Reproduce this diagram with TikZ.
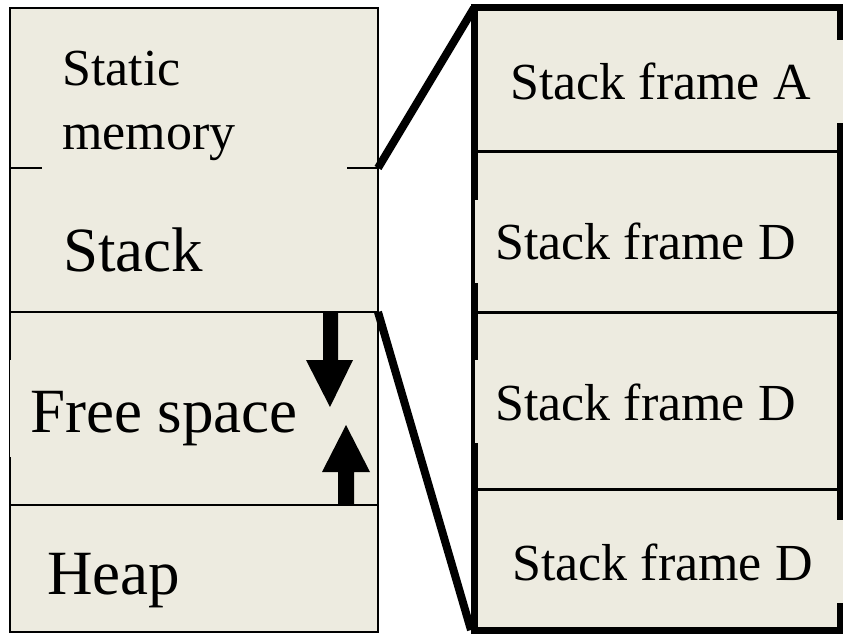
\documentclass[tikz,border=0pt]{standalone}
\usepackage{fontspec}
\setmainfont{Liberation Serif}
\definecolor{mem}{RGB}{237,235,224}
\begin{document}
\begin{tikzpicture}[x=1pt,y=-1pt,
  thinline/.style={line width=1.5pt},
  frameline/.style={line width=7pt},
  sepline/.style={line width=3pt},
  zoomline/.style={line width=8pt},
  lbl/.style={anchor=base west, inner sep=0pt, font=\fontsize{52}{64}\selectfont},
  biglbl/.style={anchor=base west, inner sep=0pt, font=\fontsize{63}{72}\selectfont},
  cover/.style={fill=mem, draw=none},
  arrowshape/.style={fill=black, draw=none}]
\useasboundingbox (0,0) rectangle (843,636);
% ---------- left column ----------
\fill[mem] (10,8) rectangle (378,632);
\draw[thinline] (10,8) rectangle (378,632);
\draw[thinline] (10,168) -- (378,168);
\draw[thinline] (10,312) -- (378,312);
\draw[thinline] (10,505) -- (378,505);
\fill[cover] (42,30) rectangle (347,172);
\fill[cover] (10,360) rectangle (377,457);
% growth arrows
\fill[arrowshape] (323,312) -- (338,312) -- (338,360) -- (353,360) -- (330,407) -- (306,360) -- (323,360) -- cycle;
\fill[arrowshape] (338,505) -- (354,505) -- (354,472) -- (370,472) -- (346,425) -- (322,472) -- (338,472) -- cycle;
% labels
\node[lbl] (static) at (62,86) {Static};
\node[lbl] (memory) at (62,150) {memory};
\node[biglbl] (stack) at (63,272) {Stack};
\node[biglbl] (free) at (30,432) {Free space};
\node[biglbl] (heap) at (47,594) {Heap};
% ---------- right column ----------
\fill[mem] (474,8) rectangle (840,630);
\draw[sepline] (474,152) -- (840,152);
\draw[sepline] (474,312) -- (840,312);
\draw[sepline] (474,489) -- (840,489);
\draw[frameline] (474,8) rectangle (840,630);
\fill[cover] (478,40) rectangle (843,123);
\fill[cover] (475,200) rectangle (835,283);
\fill[cover] (475,360) rectangle (835,443);
\fill[cover] (478,520) rectangle (843,603);
\node[lbl] (fa) at (510,100) {Stack frame A};
\node[lbl] (fd1) at (495,260) {Stack frame D};
\node[lbl] (fd2) at (495,420) {Stack frame D};
\node[lbl] (fd3) at (512,580) {Stack frame D};
% ---------- zoom connectors ----------
\coordinate (stacktop) at (378,168);
\coordinate (stackbot) at (378,312);
\coordinate (frametop) at (474,8);
\coordinate (framebot) at (471,630);
\draw[zoomline] (stacktop) -- (frametop);
\draw[zoomline] (stackbot) -- (framebot);
\end{tikzpicture}
\end{document}
